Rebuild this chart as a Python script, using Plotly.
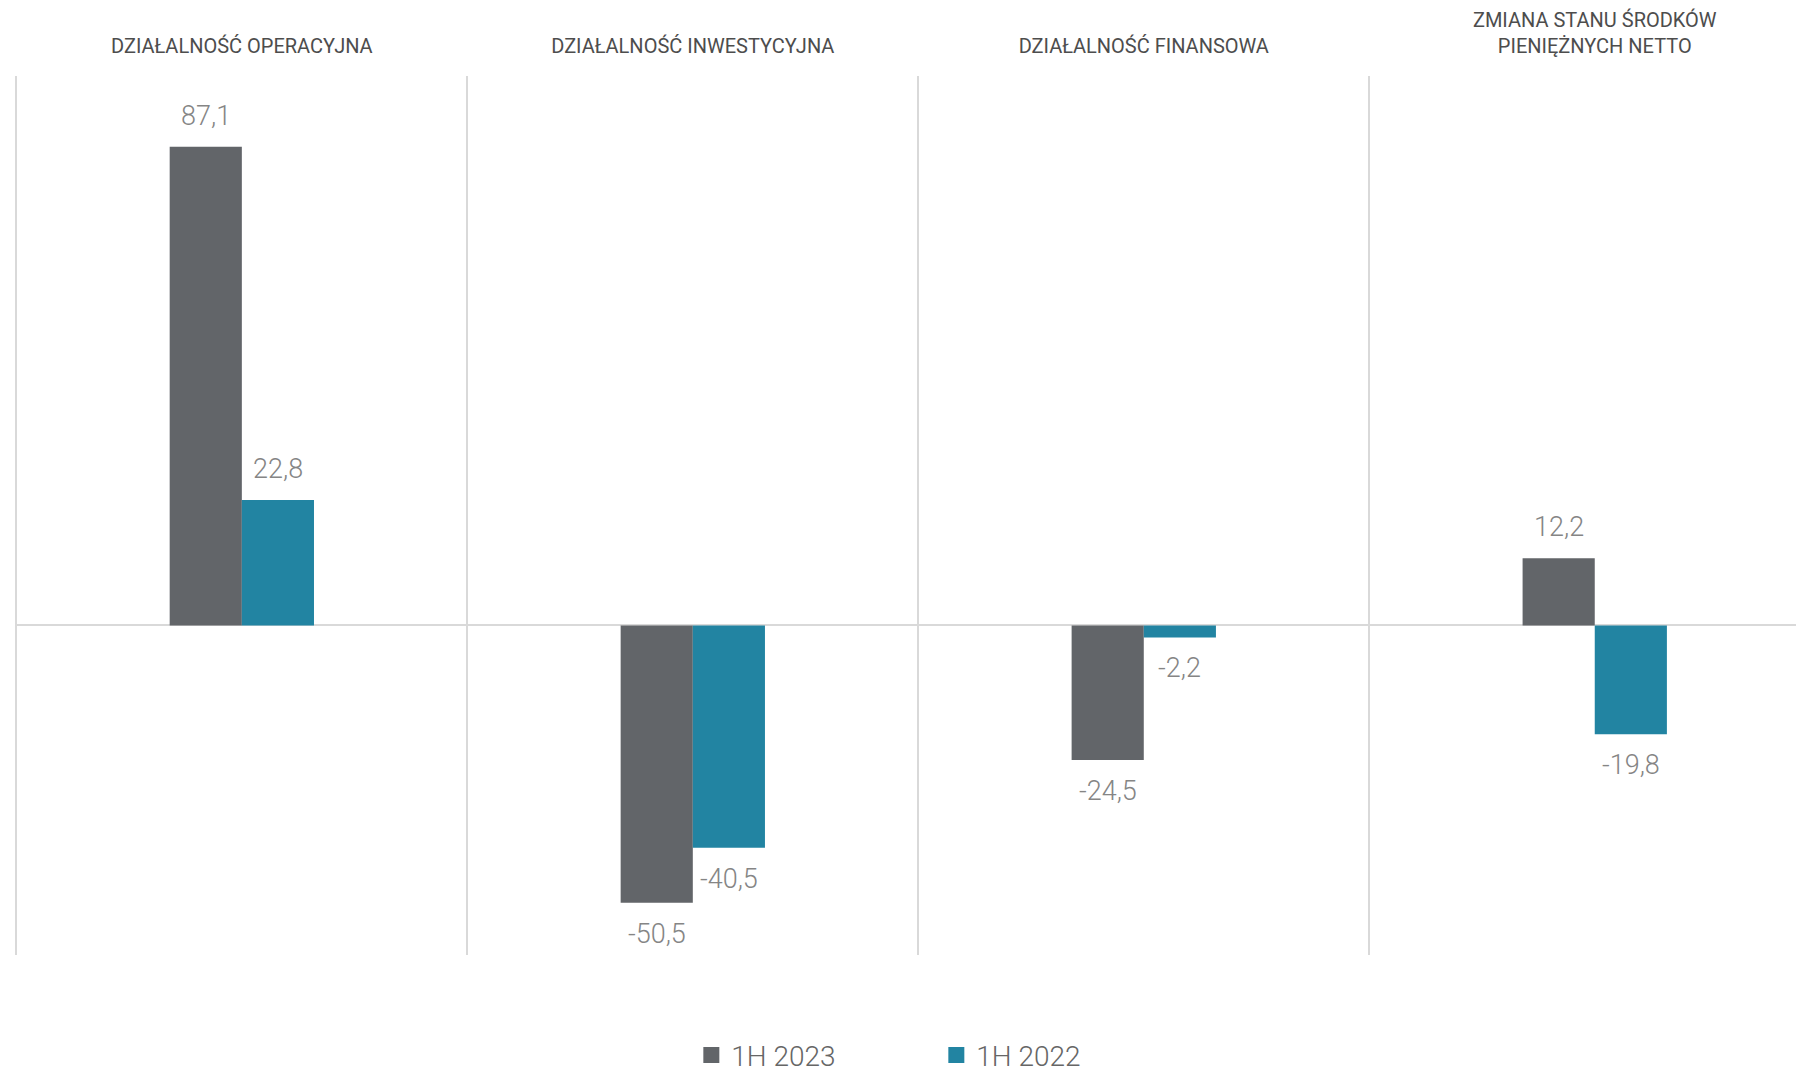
import plotly.graph_objects as go

categories = [
    "DZIAŁALNOŚĆ OPERACYJNA",
    "DZIAŁALNOŚĆ INWESTYCYJNA",
    "DZIAŁALNOŚĆ FINANSOWA",
    "ZMIANA STANU ŚRODKÓW<br>PIENIĘŻNYCH NETTO",
]
series_names = ["1H 2023", "1H 2022"]
values_2023 = [87.1, -50.5, -24.5, 12.2]
values_2022 = [22.8, -40.5, -2.2, -19.8]
colors = ["#626569", "#2284a2"]

FONT = "Roboto"
bar_w = 0.16

fig = go.Figure()
for name, vals, col in zip(series_names, [values_2023, values_2022], colors):
    fig.add_trace(go.Bar(
        x=categories, y=vals, name=name, showlegend=False,
        marker=dict(color=col, line=dict(width=0)),
    ))
# legend entries with square symbols
for name, col in zip(series_names, colors):
    fig.add_trace(go.Scatter(
        x=[None], y=[None], mode="markers", name=name,
        marker=dict(symbol="square", color=col, size=16),
    ))

# value labels
for k, vals in enumerate([values_2023, values_2022]):
    off = (-0.5 if k == 0 else 0.5) * bar_w
    for i, v in enumerate(vals):
        fig.add_annotation(
            x=i + off, y=v, text=f"{v:.1f}".replace(".", ","),
            showarrow=False, yanchor="middle",
            yshift=31 if v >= 0 else -31,
            font=dict(family=FONT, size=27, color="#858585", weight=300),
        )

fig.update_layout(
    width=1796, height=1066,
    paper_bgcolor="white", plot_bgcolor="white",
    margin=dict(l=7, r=0, t=68, b=119, autoexpand=False),
    barmode="group", bargap=0.68, bargroupgap=0,
    showlegend=True,
    legend=dict(
        orientation="h", x=0.515, xanchor="center", y=-0.114, yanchor="middle",
        font=dict(family=FONT, size=28, color="#666666", weight=300),
        entrywidth=200, itemsizing="trace",
    ),
    xaxis=dict(
        type="category", side="top", range=[-0.503, 3.464], automargin=False,
        showgrid=True, gridcolor="#d9d9d9", gridwidth=2,
        tickson="boundaries", ticks="", showline=False, zeroline=False,
        ticklabelstandoff=18,
        tickfont=dict(family=FONT, size=20, color="#4d4d4d"),
    ),
    yaxis=dict(
        range=[-60, 100], showgrid=False, showticklabels=False,
        zeroline=True, zerolinecolor="#d9d9d9", zerolinewidth=2,
        showline=False, ticks="", automargin=False,
    ),
)

fig.write_html("out.html")
